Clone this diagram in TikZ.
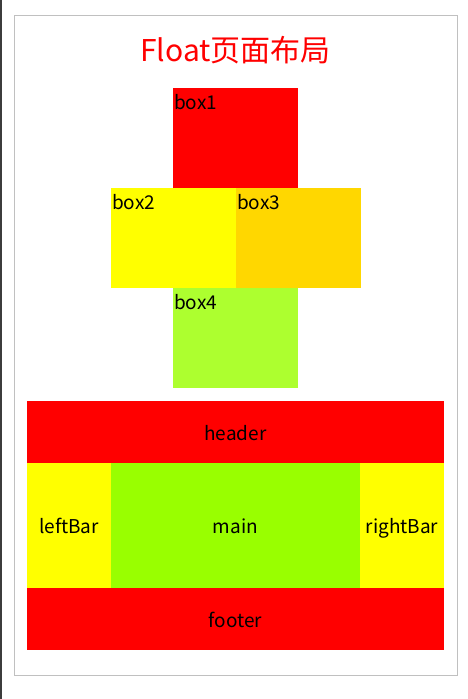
\documentclass[tikz,border=0pt]{standalone}
\usepackage{fontspec}
\setmainfont{Noto Sans CJK SC}
\definecolor{boxred}{HTML}{FF0000}
\definecolor{boxyellow}{HTML}{FFFF00}
\definecolor{boxgold}{HTML}{FFD700}
\definecolor{boxlime}{HTML}{ADFF2F}
\definecolor{maingreen}{HTML}{99FF00}
\definecolor{framegray}{HTML}{C0C0C0}
\definecolor{edgegray}{HTML}{3C3C3C}
\tikzset{
  boxlbl/.style={anchor=north west, inner sep=0pt, font=\fontsize{19}{19}\selectfont},
  barlbl/.style={anchor=base, inner sep=0pt, font=\fontsize{19}{19}\selectfont},
}

\begin{document}
\begin{tikzpicture}[x=1pt, y=-1pt]
		\useasboundingbox (0,0) rectangle (467,699);
		
		\fill[edgegray] (0,0) rectangle (2,699);
		\draw[framegray, line width=1.2pt] (14.5,15.5) rectangle (457.5,675.5);
		
		\node[anchor=base, inner sep=0pt, text=boxred, font=\fontsize{30}{30}\selectfont] (title) at (235.5,61) {Float页面布局};
		
		% float boxes
		\fill[boxred] (173,88) rectangle (298,188);
		\fill[boxyellow] (111,188) rectangle (236,288);
		\fill[boxgold] (236,188) rectangle (361,288);
		\fill[boxlime] (173,288) rectangle (298,388);
		\node[boxlbl] (box1) at (174,94) {box1};
		\node[boxlbl] (box2) at (112,194) {box2};
		\node[boxlbl] (box3) at (237,194) {box3};
		\node[boxlbl] (box4) at (174,294) {box4};
		
		% page layout
		\fill[boxred] (27,401) rectangle (444,463);
		\fill[boxyellow] (27,463) rectangle (111,588);
		\fill[maingreen] (111,463) rectangle (360,588);
		\fill[boxyellow] (360,463) rectangle (444,588);
		\fill[boxred] (27,588) rectangle (444,650);
		\node[barlbl] (header) at (235.5,440) {header};
		\node[barlbl] (leftBar) at (69,533) {leftBar};
		\node[barlbl] (main) at (235.5,533) {main};
		\node[barlbl] (rightBar) at (402,533) {rightBar};
		\node[barlbl] (footer) at (235.5,627) {footer};
		
\end{tikzpicture}
\end{document}
